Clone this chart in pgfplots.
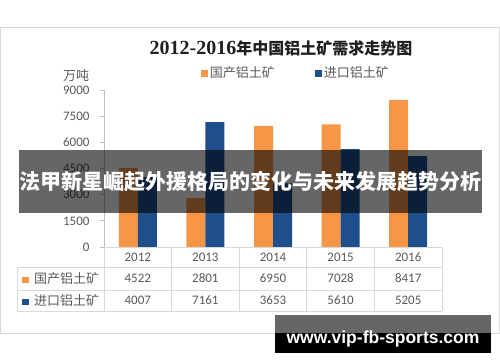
\documentclass[border=0pt]{standalone}
\usepackage{pgfplots}
\pgfplotsset{compat=1.18}
\usepackage{fontspec}
\setmainfont{Carlito}
\newfontfamily\cjk{Noto Sans CJK SC}
\newfontfamily\latb{Liberation Sans}
\newfontfamily\serifb{Liberation Serif}
\definecolor{orangec}{HTML}{F79646}
\definecolor{bluec}{HTML}{1F4E8C}
\definecolor{labc}{HTML}{595959}
\definecolor{gridc}{HTML}{D9D9D9}
\definecolor{axc}{HTML}{BFBFBF}
\begin{document}
\begin{tikzpicture}[x=1pt,y=1pt]
\path[use as bounding box] (0,0) rectangle (500,362);
\draw[gridc, line width=0.8pt] (0.5,29) rectangle (499.5,335);
\node[text=black!88] at (281,314) {\serifb\bfseries\fontsize{20}{20}\selectfont 2012-2016\cjk\fontsize{16}{16}\selectfont 年中国铝土矿需求走势图};
\node[text=labc] at (76,286) {\cjk\fontsize{13}{13}\selectfont 万吨};
\begin{axis}[
  at={(104pt,115pt)}, anchor=south west, scale only axis,
  width=338pt, height=157pt,
  xmin=-0.5, xmax=4.5, ymin=0, ymax=9000,
  ytick={0,1500,3000,4500,6000,7500,9000},
  scaled y ticks=false,
  axis x line=none, axis y line=left,
  y axis line style={draw=axc, -, line width=0.8pt},
  ytick style={draw=axc, line width=0.8pt},
  tick align=outside, major tick length=4pt,
  /pgf/number format/assume math mode=true,
  /pgf/number format/1000 sep={},
  yticklabel style={font=\fontsize{13}{13}\selectfont, text=labc, xshift=-7pt},
  ybar=0pt, bar width=19pt,
  clip=false,
  legend style={at={(axis description cs:0.568,1.108)}, anchor=center, draw=none, fill=none,
    legend columns=2, font=\cjk\fontsize{13}{13}\selectfont, text=labc,
    /tikz/every even column/.append style={column sep=38pt}},
]
\addplot[fill=orangec, draw=none, legend image code/.code={\fill[orangec] (0pt,-3.5pt) rectangle (7pt,3.5pt);}]
  coordinates {(0,4522) (1,2801) (2,6950) (3,7028) (4,8417)};
\addlegendentry{国产铝土矿}
\addplot[fill=bluec, draw=none, legend image code/.code={\fill[bluec] (0pt,-3.5pt) rectangle (7pt,3.5pt);}]
  coordinates {(0,4007) (1,7161) (2,3653) (3,5610) (4,5205)};
\addlegendentry{进口铝土矿}
\end{axis}
% data table
\draw[gridc, line width=0.8pt] (104,115) -- (442,115);
\foreach \yy in {95,72,51} {\draw[gridc, line width=0.8pt] (17,\yy) -- (442,\yy);}
\foreach \xx in {104,171.6,239.2,306.8,374.4,442} {\draw[gridc, line width=0.8pt] (\xx,115) -- (\xx,51);}
\draw[gridc, line width=0.8pt] (17,95) -- (17,51);
\foreach \yr [count=\i from 0] in {2012,2013,2014,2015,2016} {
  \node[text=labc, font=\fontsize{13}{13}\selectfont] at (137.8+67.6*\i,105) {\yr};}
\foreach \v [count=\i from 0] in {4522,2801,6950,7028,8417} {
  \node[text=labc, font=\fontsize{13}{13}\selectfont] at (137.8+67.6*\i,83.5) {\v};}
\foreach \v [count=\i from 0] in {4007,7161,3653,5610,5205} {
  \node[text=labc, font=\fontsize{13}{13}\selectfont] at (137.8+67.6*\i,61.5) {\v};}
\node[anchor=west, inner sep=0pt, text=labc] at (22,83.5) {\textcolor{orangec}{\rule{6.5pt}{6.5pt}}\hspace{5.5pt}\cjk\fontsize{13}{13}\selectfont 国产铝土矿};
\node[anchor=west, inner sep=0pt, text=labc] at (22,61.5) {\textcolor{bluec}{\rule{6.5pt}{6.5pt}}\hspace{5.5pt}\cjk\fontsize{13}{13}\selectfont 进口铝土矿};
% overlay banner
\fill[black, fill opacity=0.6] (19,149.5) rectangle (482,212.5);
\node[text=white] at (250.5,180) {\cjk\bfseries\fontsize{21}{21}\selectfont 法甲新星崛起外援格局的变化与未来发展趋势分析};
% watermark box
\fill[black!60] (275,29) rectangle (491,47);
\fill[black] (275,9) rectangle (491,29);
\node[text=white] at (383,23) {\latb\bfseries\fontsize{17.5}{17.5}\selectfont www.vip-fb-sports.com};
\end{tikzpicture}
\end{document}
